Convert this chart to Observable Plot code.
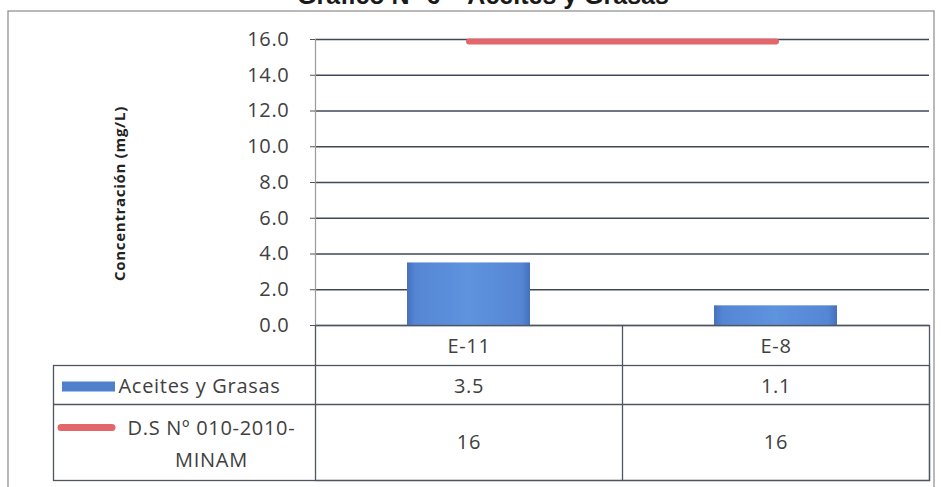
<!DOCTYPE html>
<html>
<head>
<meta charset="utf-8">
<script src="https://cdn.jsdelivr.net/npm/d3@7"></script>
<script src="https://cdn.jsdelivr.net/npm/@observablehq/plot@0.6"></script>
<style>
  html, body { margin: 0; padding: 0; background: #fff; }
  #wrap { position: relative; width: 941px; height: 487px; overflow: hidden; background: #fff; }
  #title {
    position: absolute; left: 0; top: -17px; width: 966px;
    text-align: center; font: bold 25px "Liberation Sans", Arial, sans-serif;
    line-height: 24px; color: #1a1a1a;
  }
</style>
</head>
<body>
<div id="wrap">
  <div id="chart"></div>
  <div id="title">Gráfico N° 6 – Aceites y Grasas</div>
</div>
<script>
// Monitoring stations and measured oil & grease concentration (mg/L)
const sites = ["E-11", "E-8"];
const aceites = [3.5, 1.1];
// Regulatory limit (D.S Nº 010-2010-MINAM) at each station
const limite = [16, 16];
const seriesNames = ["Aceites y Grasas", "D.S Nº 010-2010-\nMINAM"];
const yLabel = "Concentración (mg/L)";
const yTicks = [0, 2, 4, 6, 8, 10, 12, 14, 16];

const rows = sites.map((site, i) => ({site, aceites: aceites[i], limite: limite[i]}));

// Layout
const W = 941, H = 487;
const ML = 315, MR = 12, MT = 39, MB = 162;
const step = (W - ML - MR) / sites.length;
const fmt1 = d3.format(".1f");

const gridColor = "#3e4954";
const tableColor = "#4f565e";
const barBlue = "#4f80cc";
const limitRed = "#e2666b";
const textColor = "#404040";

// Offsets of the data-table rows below the category axis
const rowCat = 21, rowA = 61, rowB = 115;
const lineA = 40, lineB = 79, tableBottom = 155;

const cell = {frameAnchor: "bottom", lineAnchor: "middle", textAnchor: "middle", fill: textColor};

const chart = Plot.plot({
  width: W,
  height: H,
  marginLeft: ML,
  marginRight: MR,
  marginTop: MT,
  marginBottom: MB,
  style: {
    fontFamily: "'Open Sans', sans-serif",
    fontSize: "20px",
    color: textColor,
    background: "transparent",
    letterSpacing: "0.7px",
    overflow: "visible"
  },
  x: {domain: sites, paddingInner: 0.6, paddingOuter: 0.3, axis: null},
  y: {domain: [0, 16], axis: null},
  marks: [
    // outer chart border
    Plot.frame({stroke: "#8a8a8a", strokeWidth: 1.2,
      insetLeft: -(ML - 7.5), insetTop: -(MT - 10.5), insetRight: -(MR - 7.5), insetBottom: -(MB + 10)}),
    // horizontal gridlines
    Plot.gridY({ticks: yTicks, stroke: gridColor, strokeOpacity: 1, strokeWidth: 1.3}),
    // vertical value axis line
    Plot.ruleX([sites[0]], {dx: -step / 2, stroke: "#9a9a9a", strokeWidth: 1.2}),
    Plot.axisY({ticks: yTicks, tickFormat: fmt1, tickSize: 5, tickPadding: 21,
      fontSize: 20, label: null, stroke: "#555"}),
    // y axis title
    Plot.text([yLabel], {frameAnchor: "left", textAnchor: "middle", lineAnchor: "middle",
      dx: -195, dy: 11, rotate: -90, fontWeight: "bold", fontSize: 15, fill: "#222",
      letterSpacing: "0.3px"}),
    // bars
    Plot.barY(rows, {x: "site", y: "aceites", fill: "url(#barFill)"}),
    // limit line
    Plot.line(rows, {x: "site", y: "limite", stroke: limitRed, strokeWidth: 6,
      strokeLinecap: "round", dy: 2}),

    // data table grid
    Plot.frame({stroke: tableColor, strokeWidth: 1.3, insetTop: (H - MB - MT), insetBottom: -tableBottom}),
    Plot.frame({stroke: tableColor, strokeWidth: 1.3, insetLeft: -(ML - 53),
      insetTop: (H - MB - MT) + lineA, insetBottom: -tableBottom}),
    Plot.ruleX(sites.slice(1), {dx: -step / 2, stroke: tableColor, strokeWidth: 1.3,
      insetTop: (H - MB - MT), insetBottom: -tableBottom}),
    Plot.ruleY([0], {dy: lineB, insetLeft: -(ML - 53), stroke: tableColor, strokeWidth: 1.3}),

    // table text: categories and values
    Plot.text(sites, {...cell, x: d => d, dy: rowCat}),
    Plot.text(rows, {...cell, x: "site", text: d => fmt1(d.aceites), dy: rowA}),
    Plot.text(rows, {...cell, x: "site", text: d => String(d.limite), dy: rowB + 2}),

    // legend keys and series names
    Plot.ruleY([0], {dy: rowA, insetLeft: -(ML - 62), insetRight: (W - MR) - 115,
      stroke: barBlue, strokeWidth: 10}),
    Plot.ruleY([0], {dy: 102, insetLeft: -(ML - 61), insetRight: (W - MR) - 112,
      stroke: limitRed, strokeWidth: 7, strokeLinecap: "round"}),
    Plot.text([seriesNames[0]], {...cell, frameAnchor: "bottom-left", dx: 118 - ML, dy: rowA,
      textAnchor: "start"}),
    Plot.text([seriesNames[1]], {...cell, frameAnchor: "bottom-left", dx: 211 - ML, dy: rowB,
      lineHeight: 1.6})
  ]
});

// bar fill: Office-style blue with darker edges
const defs = d3.create("svg:defs");
const grad = defs.append("linearGradient").attr("id", "barFill")
  .attr("x1", 0).attr("x2", 1).attr("y1", 0).attr("y2", 0);
[[0, "#4570bd"], [0.07, "#5586d4"], [0.5, "#5e93de"], [0.93, "#5586d4"], [1, "#4570bd"]]
  .forEach(([o, c]) => grad.append("stop").attr("offset", o).attr("stop-color", c));
chart.insertBefore(defs.node(), chart.firstChild);

document.getElementById("chart").appendChild(chart);
</script>
</body>
</html>
